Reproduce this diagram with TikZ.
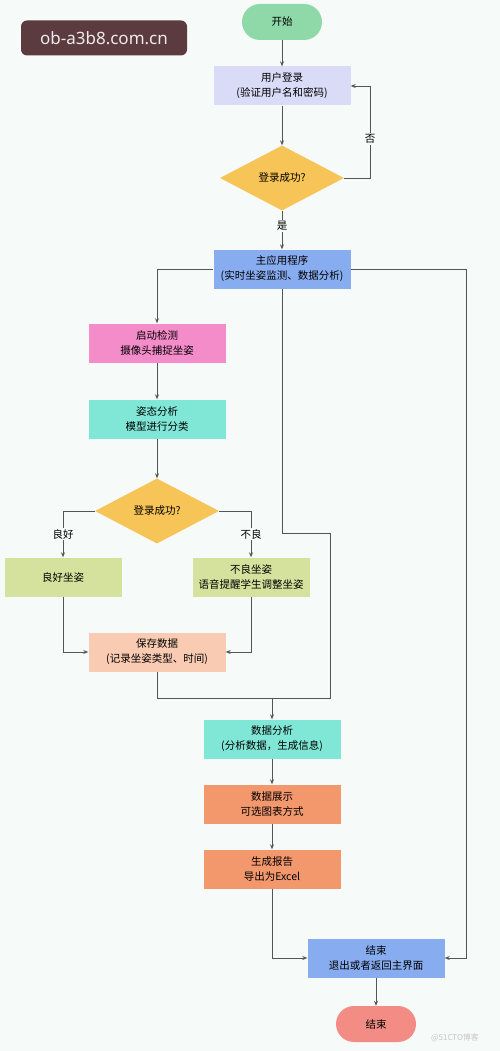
\documentclass[tikz,border=0pt]{standalone}
\usepackage{fontspec}
\setmainfont{Noto Sans CJK SC}
\newfontfamily\urlfont{Noto Sans}
\usetikzlibrary{shapes.geometric,arrows.meta}
\definecolor{bgcol}{HTML}{F6FAF9}
\definecolor{linecol}{HTML}{555555}
\definecolor{startcol}{HTML}{8FD8A8}
\definecolor{logincol}{HTML}{D9DBF7}
\definecolor{deccol}{HTML}{F7C457}
\definecolor{bluecol}{HTML}{88ACF0}
\definecolor{pinkcol}{HTML}{F38CC9}
\definecolor{tealcol}{HTML}{80E6D6}
\definecolor{olivecol}{HTML}{D4E29D}
\definecolor{peachcol}{HTML}{F8CBB2}
\definecolor{orangecol}{HTML}{F3976D}
\definecolor{endcol}{HTML}{F38C84}
\definecolor{wmcol}{HTML}{5B3B3E}
\tikzset{
  box/.style={rectangle, minimum width=137pt, minimum height=39pt, inner sep=2pt,
    align=center, font=\fontsize{10.5}{15}\selectfont},
  term/.style={rectangle, rounded corners=18pt, minimum width=80pt, minimum height=36pt,
    font=\fontsize{10.5}{15}\selectfont},
  decision/.style={diamond, aspect=1.9, inner sep=0pt, minimum width=124pt,
    minimum height=65pt, fill=deccol, font=\fontsize{10.5}{15}\selectfont},
  arr/.style={draw=linecol, line width=0.8pt, -{Stealth[length=5pt,width=4pt]}},
  line/.style={draw=linecol, line width=0.8pt},
  lbl/.style={fill=bgcol, inner sep=1.5pt, font=\fontsize{10.5}{13}\selectfont}
}
\begin{document}
\begin{tikzpicture}[x=1pt, y=-1pt]
  \fill[bgcol] (0,0) rectangle (500,1051);
  \useasboundingbox (0,0) rectangle (500,1051);
  % watermark
  \node[fill=wmcol, rounded corners=6pt, minimum width=166pt, minimum height=35pt,
    text=white!90!wmcol, font=\urlfont\fontsize{17}{20}\selectfont] (wm) at (104,38) {ob-a3b8.com.cn};
  \node[text=black!22, font=\fontsize{8}{10}\selectfont] (src) at (455,1038) {@51CTO博客};
  % nodes
  \node[term, fill=startcol] (start) at (282,22) {开始};
  \node[box, fill=logincol] (login) at (282,86) {用户登录\\(验证用户名和密码)};
  \node[decision] (dec1) at (282,178) {登录成功?};
  \node[box, fill=bluecol] (main) at (282,269) {主应用程序\\(实时坐姿监测、数据分析)};
  \node[box, fill=pinkcol] (detect) at (157,343) {启动检测\\摄像头捕捉坐姿};
  \node[box, fill=tealcol] (pose) at (157,419) {姿态分析\\模型进行分类};
  \node[decision] (dec2) at (157,511) {登录成功?};
  \node[box, fill=olivecol, minimum width=117pt] (good) at (63,577) {良好坐姿};
  \node[box, fill=olivecol, minimum width=117pt] (bad) at (251,577) {不良坐姿\\语音提醒学生调整坐姿};
  \node[box, fill=peachcol] (save) at (157,652) {保存数据\\(记录坐姿类型、时间)};
  \node[box, fill=tealcol] (ana) at (272,739) {数据分析\\(分析数据，生成信息)};
  \node[box, fill=orangecol] (show) at (272,804) {数据展示\\可选图表方式};
  \node[box, fill=orangecol] (report) at (272,869) {生成报告\\导出为Excel};
  \node[box, fill=bluecol] (finish) at (376,958) {结束\\退出或者返回主界面};
  \node[term, fill=endcol] (stop) at (376,1024) {结束};
  \coordinate (join) at (272,698);
  % connectors
  \draw[arr] (start) -- (login);
  \draw[arr] (login) -- (dec1);
  \draw[arr] (dec1.east) -- (370,178) |- (login.east);
  \node[lbl] (no) at (370,139) {否};
  \draw[arr] (dec1.south) -- (main.north);
  \node[lbl] (yes) at (282,226) {是};
  \draw[arr] (main.west) -| (detect.north);
  \draw[arr] (detect) -- (pose);
  \draw[arr] (pose) -- (dec2);
  \draw[arr] (dec2.west) -| (good.north);
  \node[lbl] (goodlbl) at (63,534) {良好};
  \draw[arr] (dec2.east) -| (bad.north);
  \node[lbl] (badlbl) at (251,534) {不良};
  \draw[arr] (good.south) |- (save.west);
  \draw[arr] (bad.south) |- (save.east);
  \draw[line] (save.south) |- (join);
  \draw[line] (main.south) -- ++(0,245) -| (330,698) -- (join);
  \draw[arr] (join) -- (ana.north);
  \draw[arr] (ana) -- (show);
  \draw[arr] (show) -- (report);
  \draw[arr] (report.south) |- (finish.west);
  \draw[arr] (main.east) -| (466,958) -- (finish.east);
  \draw[arr] (finish) -- (stop);
\end{tikzpicture}
\end{document}
